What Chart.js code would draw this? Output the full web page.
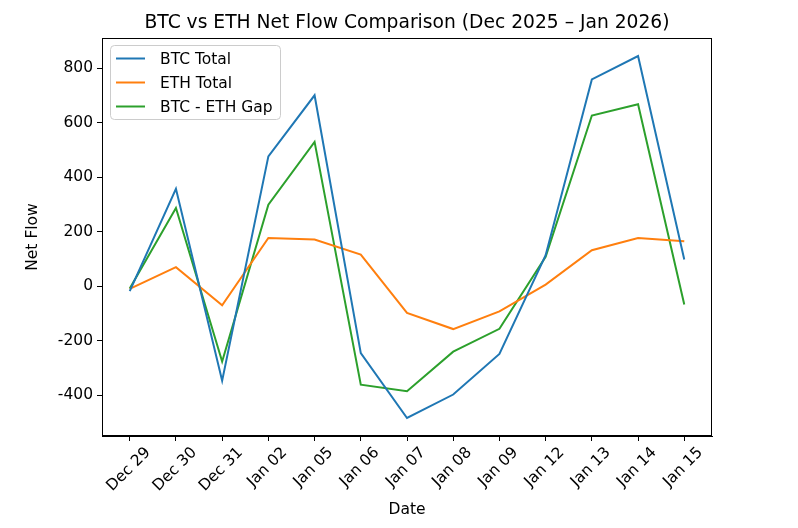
<!DOCTYPE html>
<html>
<head>
<meta charset="utf-8">
<script src="https://cdn.jsdelivr.net/npm/chart.js@4.4.1/dist/chart.umd.min.js"></script>
<style>
  body { margin: 0; background: #fff; }
  #wrap { width: 798px; height: 528px; }
</style>
</head>
<body>
<div id="wrap"><canvas id="flowChart"></canvas></div>
<script>
// Данные
const dates = ['Dec 29', 'Dec 30', 'Dec 31', 'Jan 02', 'Jan 05', 'Jan 06', 'Jan 07', 'Jan 08', 'Jan 09', 'Jan 12', 'Jan 13', 'Jan 14', 'Jan 15'];
const btcTotal = [-18, 357, -346, 476, 700, -245, -483, -397, -248, 114, 758, 844, 98];
const ethTotal = [-10, 70, -70, 177, 171, 116, -98, -157, -92, 6, 132, 177, 165];
const btcEthGap = [-8, 287, -276, 299, 529, -361, -385, -240, -156, 108, 626, 667, -67];
const yTicks = [-400, -200, 0, 200, 400, 600, 800];
const titleText = 'BTC vs ETH Net Flow Comparison (Dec 2025 – Jan 2026)';

const FONT = '"DejaVu Sans", sans-serif';
const FS = 15.5;
Chart.defaults.font.family = FONT;
Chart.defaults.color = '#000';

const toPoints = arr => arr.map((v, i) => ({ x: i, y: v }));

// Заголовок по центру области графика
const titlePlugin = {
    id: 'centerTitle',
    afterDraw(chart) {
        const a = chart.chartArea;
        const ctx = chart.ctx;
        ctx.save();
        ctx.font = '18.7px ' + FONT;
        ctx.fillStyle = '#000';
        ctx.textAlign = 'center';
        ctx.textBaseline = 'alphabetic';
        ctx.fillText(titleText, (a.left + a.right) / 2, 28);
        ctx.restore();
    }
};

// Рамка вокруг области графика
const framePlugin = {
    id: 'frame',
    afterDatasetsDraw(chart) {
        const a = chart.chartArea;
        const ctx = chart.ctx;
        ctx.save();
        ctx.strokeStyle = '#000';
        ctx.lineWidth = 1;
        ctx.strokeRect(a.left + 0.5, a.top + 0.5, a.right - a.left - 1, a.bottom - a.top - 1);
        ctx.restore();
    }
};

// Подписи дат под углом 45°, центрированные по делению
const xLabelsPlugin = {
    id: 'xLabels',
    afterDraw(chart) {
        const ctx = chart.ctx;
        const xs = chart.scales.x;
        const top = chart.chartArea.bottom + 10;
        ctx.save();
        ctx.font = FS + 'px ' + FONT;
        ctx.fillStyle = '#000';
        ctx.textAlign = 'center';
        ctx.textBaseline = 'middle';
        const h = FS * 0.75;
        dates.forEach((d, i) => {
            const w = ctx.measureText(d).width;
            const bb = (w + h) * Math.SQRT1_2;
            ctx.save();
            ctx.translate(xs.getPixelForValue(i) - 1, top + bb / 2);
            ctx.rotate(-Math.PI / 4);
            ctx.fillText(d, 0, 0);
            ctx.restore();
        });
        ctx.restore();
    }
};

// Легенда в левом верхнем углу области графика
const legendPlugin = {
    id: 'innerLegend',
    afterDatasetsDraw(chart) {
        const ctx = chart.ctx;
        const x = 110, y = 45, w = 170, h = 74, r = 4;
        ctx.save();
        ctx.beginPath();
        ctx.roundRect(x + 0.5, y + 0.5, w, h, r);
        ctx.fillStyle = 'rgba(255,255,255,0.8)';
        ctx.fill();
        ctx.strokeStyle = '#cccccc';
        ctx.lineWidth = 1;
        ctx.stroke();
        ctx.font = FS + 'px ' + FONT;
        ctx.textBaseline = 'middle';
        chart.data.datasets.forEach((ds, i) => {
            const cy = 58.5 + i * 24;
            ctx.strokeStyle = ds.borderColor;
            ctx.lineWidth = 2;
            ctx.beginPath();
            ctx.moveTo(116, cy);
            ctx.lineTo(145, cy);
            ctx.stroke();
            ctx.fillStyle = '#000';
            ctx.fillText(ds.label, 160, cy + 1);
        });
        ctx.restore();
    }
};

const ctx = document.getElementById('flowChart').getContext('2d');
new Chart(ctx, {
    type: 'line',
    data: {
        datasets: [{
            label: 'BTC Total',
            data: toPoints(btcTotal),
            borderColor: '#1f77b4',
            borderWidth: 2
        }, {
            label: 'ETH Total',
            data: toPoints(ethTotal),
            borderColor: '#ff7f0e',
            borderWidth: 2
        }, {
            label: 'BTC - ETH Gap',
            data: toPoints(btcEthGap),
            borderColor: '#2ca02c',
            borderWidth: 2
        }]
    },
    options: {
        responsive: true,
        maintainAspectRatio: false,
        animation: false,
        events: [],
        elements: {
            point: { radius: 0 },
            line: { tension: 0, fill: false }
        },
        layout: { padding: { left: 0, right: 86, top: 38, bottom: 0 } },
        plugins: {
            legend: { display: false },
            tooltip: { enabled: false },
            title: { display: false }
        },
        scales: {
            x: {
                type: 'linear',
                min: -0.6,
                max: 12.6,
                afterBuildTicks: s => { s.ticks = dates.map((d, i) => ({ value: i })); },
                afterFit: s => { s.height = 92; },
                ticks: { display: false },
                grid: { display: true, drawOnChartArea: false, drawTicks: true, tickLength: 5, color: '#000' },
                border: { display: true, color: '#000' },
                title: {
                    display: true,
                    text: 'Date',
                    font: { size: FS },
                    padding: { top: 0, bottom: 9 }
                }
            },
            y: {
                min: -549,
                max: 910,
                afterBuildTicks: s => { s.ticks = yTicks.map(v => ({ value: v })); },
                afterFit: s => { s.width = 102; },
                ticks: { font: { size: FS }, padding: 4 },
                grid: { display: true, drawOnChartArea: false, drawTicks: true, tickLength: 5, color: '#000' },
                border: { display: true, color: '#000' },
                title: {
                    display: true,
                    text: 'Net Flow',
                    font: { size: FS },
                    padding: { top: 24, bottom: 0 }
                }
            }
        }
    },
    plugins: [framePlugin, legendPlugin, xLabelsPlugin, titlePlugin]
});
</script>
</body>
</html>
